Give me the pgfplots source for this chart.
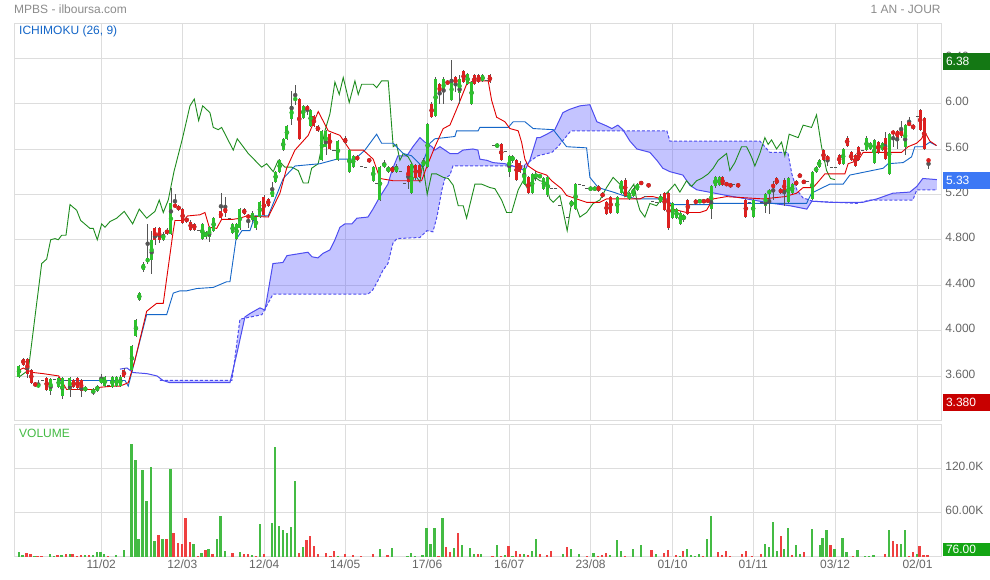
\documentclass[border=0pt]{standalone}
\usepackage{pgfplots}
\pgfplotsset{compat=1.18}
\usepackage{pgfplotstable}
\usepackage{fontspec}
\setmainfont{Liberation Sans}

\definecolor{gridc}{HTML}{DDDDDD}
\definecolor{tickc}{HTML}{666666}
\definecolor{upc}{HTML}{2DC22D}
\definecolor{downc}{HTML}{DD2020}
\definecolor{wickc}{HTML}{555555}
\definecolor{tenkan}{HTML}{E00000}
\definecolor{kijun}{HTML}{1466C8}
\definecolor{chikou}{HTML}{1E8C1E}
\definecolor{span}{HTML}{4D4DF0}
\definecolor{cloud}{HTML}{4D4DFF}
\definecolor{volup}{HTML}{44BB44}
\definecolor{voldown}{HTML}{EE4040}
\newcommand\fs{\fontsize{12}{14}\selectfont}

% candles: x (px position on the date axis), open, close, high, low
\pgfplotstableread{
x o c h l
19 3.59 3.69 3.70 3.58
38.3 3.50 3.53 3.56 3.49
50.7 3.47 3.57 3.58 3.43
58.7 3.50 3.58 3.59 3.49
62.3 3.42 3.58 3.59 3.40
70 3.48 3.58 3.59 3.41
85.3 3.47 3.50 3.51 3.46
93.3 3.45 3.48 3.49 3.43
97.3 3.47 3.51 3.52 3.46
101.3 3.54 3.58 3.62 3.53
105 3.51 3.59 3.60 3.50
112.3 3.50 3.59 3.60 3.49
116.7 3.51 3.59 3.60 3.50
120.3 3.51 3.59 3.61 3.50
132 3.65 3.86 3.87 3.64
136 3.95 4.09 4.10 3.94
139.3 4.27 4.33 4.34 4.26
143.3 4.53 4.59 4.60 4.52
147.7 4.60 4.64 4.94 4.59
151.7 4.62 4.80 4.88 4.50
163.3 4.80 4.85 4.87 4.79
171 4.85 5.12 5.26 4.84
202.3 4.81 4.94 4.95 4.80
206 4.82 4.87 4.88 4.81
209.3 4.82 4.91 4.92 4.78
213.7 4.88 4.99 5.00 4.87
232.7 4.86 4.94 4.95 4.85
236.7 4.81 4.94 4.95 4.80
240 4.90 5.07 5.08 4.89
252.3 4.97 5.04 5.05 4.96
256 4.90 5.00 5.01 4.89
260 5.00 5.13 5.14 4.99
272.3 5.18 5.24 5.31 5.18
275.7 5.31 5.40 5.41 5.30
279.7 5.40 5.50 5.51 5.39
283.3 5.59 5.69 5.70 5.58
287 5.69 5.80 5.81 5.68
291.7 5.86 5.98 6.11 5.81
295.3 6.03 6.05 6.16 5.99
303.3 5.87 5.98 5.99 5.86
310.7 5.80 5.94 5.95 5.79
322 5.50 5.76 5.77 5.49
326 5.62 5.76 5.77 5.55
338 5.50 5.67 5.68 5.49
349.3 5.40 5.59 5.60 5.39
353.3 5.44 5.54 5.55 5.43
373.3 5.32 5.44 5.45 5.31
380 5.15 5.44 5.45 5.14
384.3 5.44 5.48 5.50 5.43
388.3 5.40 5.44 5.45 5.39
396.3 5.40 5.45 5.47 5.39
411.7 5.21 5.47 5.48 5.20
423.7 5.45 5.50 5.52 5.44
427.7 5.44 5.82 5.83 5.43
435.7 5.89 6.22 6.23 5.88
443.7 6.10 6.22 6.23 6.00
451.7 6.03 6.22 6.38 6.02
459.7 6.09 6.22 6.25 6.00
467.7 6.17 6.26 6.27 6.16
471.7 6.00 6.19 6.20 5.99
482.7 6.20 6.25 6.26 6.19
497.3 5.62 5.64 5.65 5.61
509.3 5.40 5.54 5.55 5.35
512.7 5.49 5.54 5.55 5.48
524.3 5.29 5.43 5.46 5.28
532.3 5.21 5.38 5.39 5.20
536 5.35 5.38 5.41 5.32
540 5.35 5.37 5.38 5.34
544 5.25 5.34 5.35 5.24
548 5.19 5.35 5.36 5.18
571.7 5.10 5.14 5.15 5.09
575.7 5.07 5.29 5.30 5.06
590.7 5.24 5.26 5.27 5.23
595 5.24 5.26 5.27 5.23
617.3 5.04 5.18 5.19 5.03
621.3 5.21 5.32 5.33 5.20
629.3 5.16 5.21 5.22 5.15
633.3 5.19 5.25 5.26 5.18
637.3 5.24 5.29 5.30 5.23
660.7 5.13 5.19 5.20 5.12
672.7 4.99 5.12 5.13 4.98
676.7 4.99 5.07 5.08 4.98
680.7 4.94 5.04 5.05 4.93
684 4.97 5.02 5.03 4.96
700 5.13 5.15 5.16 5.12
711.3 5.07 5.27 5.28 4.98
715.3 5.27 5.35 5.36 5.26
719.3 5.28 5.35 5.36 5.27
753.3 5.00 5.15 5.16 4.99
765.7 5.10 5.20 5.21 5.04
769.3 5.20 5.24 5.25 5.03
788.3 5.13 5.34 5.35 5.12
792.3 5.21 5.29 5.30 5.20
812.3 5.16 5.40 5.41 5.15
816.3 5.40 5.44 5.45 5.39
819.3 5.44 5.50 5.51 5.43
843.3 5.47 5.60 5.61 5.46
866.7 5.59 5.70 5.71 5.58
870.7 5.60 5.65 5.66 5.59
874.3 5.48 5.68 5.69 5.47
882.3 5.59 5.65 5.66 5.58
889.3 5.38 5.73 5.74 5.37
905.3 5.62 5.81 5.82 5.55
}\upcandles

\pgfplotstableread{
x o c h l
23.3 3.75 3.70 3.76 3.69
27.3 3.75 3.62 3.76 3.58
31.3 3.65 3.54 3.66 3.53
35.3 3.54 3.51 3.55 3.50
46.7 3.58 3.48 3.59 3.47
73.7 3.56 3.50 3.57 3.49
77.7 3.58 3.49 3.59 3.48
81.3 3.56 3.47 3.57 3.41
124 3.65 3.59 3.67 3.58
155 4.90 4.80 4.91 4.75
159.3 4.90 4.80 4.91 4.77
167 4.89 4.85 4.90 4.84
175 5.11 5.09 5.20 5.08
178.7 5.10 5.06 5.11 5.05
182.7 5.07 4.95 5.08 4.94
186.7 4.99 4.96 5.00 4.95
190.7 4.96 4.89 4.97 4.88
194.3 4.94 4.89 4.95 4.88
221 5.05 4.99 5.21 4.98
225.3 5.08 5.04 5.18 5.00
244.3 5.07 5.03 5.08 5.02
248.3 5.02 4.99 5.03 4.90
264 5.18 5.02 5.19 5.01
268.3 5.16 5.10 5.17 5.09
299.3 6.04 5.69 6.05 5.68
307.3 5.98 5.94 5.99 5.90
314 5.89 5.80 5.90 5.79
318 5.80 5.76 5.81 5.75
330 5.73 5.60 5.74 5.59
345.3 5.70 5.65 5.71 5.64
357.3 5.54 5.50 5.55 5.49
369.3 5.51 5.49 5.52 5.48
392.3 5.44 5.40 5.45 5.39
408.3 5.45 5.31 5.46 5.25
415.7 5.46 5.34 5.47 5.33
419.7 5.46 5.35 5.47 5.34
431.7 6.00 5.88 6.01 5.87
439.7 6.17 6.09 6.18 6.00
447.7 6.20 6.17 6.21 6.16
455.7 6.23 6.17 6.24 6.10
463.7 6.29 6.19 6.30 6.18
474.3 6.25 6.17 6.26 6.16
478.7 6.25 6.19 6.26 6.18
490 6.25 6.19 6.26 6.18
501.3 5.64 5.50 5.65 5.49
516.7 5.50 5.33 5.51 5.32
520 5.48 5.40 5.49 5.39
528.3 5.35 5.21 5.36 5.20
598.7 5.27 5.23 5.28 5.22
602.7 5.21 5.18 5.22 5.17
606.7 5.13 5.03 5.14 5.02
610.7 5.18 5.04 5.19 5.03
625.3 5.33 5.19 5.34 5.18
641.3 5.31 5.29 5.32 5.28
648.7 5.29 5.27 5.30 5.26
664.7 5.21 5.06 5.22 5.05
668.7 5.21 4.90 5.22 4.89
688 5.15 5.03 5.16 5.02
696 5.15 5.12 5.16 5.11
704 5.15 5.13 5.16 5.12
708 5.16 5.13 5.17 5.12
722.7 5.35 5.28 5.36 5.27
726.7 5.30 5.28 5.31 5.27
730.7 5.29 5.27 5.30 5.26
738.3 5.29 5.27 5.30 5.26
746 5.15 5.00 5.16 4.99
773.3 5.29 5.26 5.32 5.15
777 5.34 5.29 5.35 5.28
781 5.25 5.21 5.26 5.20
784.3 5.33 5.21 5.34 5.10
796.3 5.32 5.28 5.33 5.27
800 5.38 5.35 5.39 5.34
804 5.32 5.30 5.33 5.29
823.7 5.59 5.50 5.60 5.49
827.7 5.54 5.50 5.55 5.45
839.3 5.55 5.47 5.56 5.46
847.3 5.70 5.63 5.71 5.62
851.3 5.57 5.50 5.58 5.49
855.3 5.55 5.45 5.56 5.44
859 5.62 5.50 5.63 5.49
878.3 5.66 5.57 5.67 5.56
885.3 5.70 5.51 5.75 5.50
893.3 5.76 5.73 5.77 5.62
897.3 5.76 5.70 5.77 5.60
901.3 5.77 5.71 5.85 5.70
909.3 5.83 5.81 5.88 5.80
913.3 5.81 5.78 5.82 5.77
920.3 5.94 5.77 5.95 5.76
924.3 5.87 5.60 5.88 5.59
928.7 5.51 5.49 5.52 5.42
}\downcandles

\begin{document}
\begin{tikzpicture}
\fill[white] (0pt,0pt) rectangle (990pt,-580pt);
\node[anchor=west, font=\fs, text=black!45, inner sep=0pt] at (14pt,-9pt) {MPBS - ilboursa.com};
\node[anchor=east, font=\fs, text=black!45, inner sep=0pt] at (941pt,-9pt) {1 AN - JOUR};

% ---------------- price panel ----------------
\begin{axis}[
    at={(14.3pt,-420.7pt)}, anchor=south west,
    scale only axis, width=927.7pt, height=397.4pt,
    xmin=14.3, xmax=942, ymin=3.2062, ymax=6.7075,
    axis line style={draw=gridc, line width=0.8pt},
    xtick={101.3,182.3,264.3,345.3,427.3,509.3,590.7,672.7,753.3,835.3,917.7},
    xticklabels={},
    ytick={3.6,4.0,4.4,4.8,5.2,5.6,6.0,6.4},
    yticklabels={3.600,4.000,4.400,4.800,5.20,5.60,6.00,6.40},
    yticklabel pos=right,
    yticklabel style={font=\fs, text=tickc, yshift=2pt},
    major tick length=0pt,
    grid=major, grid style={draw=gridc, line width=0.8pt},
    clip=false,
  ]
  % Kumo: span A left to right, then span B back right to left
  \addplot[fill=cloud, fill opacity=0.33, draw=none] coordinates {
    (160,3.58)(163,3.56)(170,3.54)(230,3.54)
    (237,3.80)(245,4.12)(250,4.15)(260,4.20)(265,4.18)(273,4.59)(283,4.60)(287,4.66)
    (308,4.69)(312,4.65)(318,4.64)(323,4.68)(330,4.71)(335,4.80)(340,4.91)(345,4.94)
    (352,4.94)(357,4.99)(368,5.00)(373,5.07)(380,5.18)(388,5.29)(392,5.41)(398,5.54)
    (407,5.54)(413,5.62)(420,5.70)(425,5.66)(432,5.62)(435,5.59)(440,5.62)(445,5.59)
    (450,5.56)(458,5.56)(463,5.59)(473,5.60)(478,5.59)(480,5.51)(487,5.50)(493,5.48)
    (505,5.47)(513,5.45)(525,5.41)(530,5.50)(537,5.70)(540,5.70)(547,5.73)(555,5.77)
    (563,5.92)(570,5.95)(580,5.98)(590,5.99)(597,5.84)(605,5.81)(612,5.78)(618,5.81)
    (623,5.77)(630,5.67)(637,5.60)(650,5.57)(657,5.50)(663,5.43)(670,5.40)(683,5.37)
    (690,5.28)(697,5.24)(727,5.19)(753,5.15)(773,5.12)(790,5.10)(807,5.07)(812,5.14)
    (830,5.13)(863,5.13)(877,5.16)(893,5.21)(910,5.22)(917,5.27)(923,5.34)(937,5.33)
    (937,5.24)(917,5.24)(913,5.15)(870,5.15)(857,5.12)(813,5.14)(803,5.17)(797,5.24)
    (792,5.38)(788,5.57)(770,5.57)(760,5.67)(670,5.67)(667,5.76)(571,5.76)(558,5.62)
    (552,5.57)(538,5.54)(523,5.45)(453,5.45)(450,5.37)(445,5.34)(442,5.24)(437,5.00)
    (433,4.87)(427,4.88)(420,4.82)(397,4.81)(393,4.77)(388,4.59)(383,4.53)(378,4.44)
    (373,4.36)(368,4.32)(273,4.32)(262,4.14)(240,4.10)(232,3.56)(160,3.56)
  } -- cycle;
  % Senkou span A (solid) and B (dashed)
  \addplot[span, line width=1pt] coordinates {
    (120,3.66)(127,3.67)(133,3.63)(147,3.62)(157,3.60)(163,3.56)(170,3.54)(230,3.54)
    (237,3.80)(245,4.12)(250,4.15)(260,4.20)(265,4.18)(273,4.59)(283,4.60)(287,4.66)
    (308,4.69)(312,4.65)(318,4.64)(323,4.68)(330,4.71)(335,4.80)(340,4.91)(345,4.94)
    (352,4.94)(357,4.99)(368,5.00)(373,5.07)(380,5.18)(388,5.29)(392,5.41)(398,5.54)
    (407,5.54)(413,5.62)(420,5.70)(425,5.66)(432,5.62)(435,5.59)(440,5.62)(445,5.59)
    (450,5.56)(458,5.56)(463,5.59)(473,5.60)(478,5.59)(480,5.51)(487,5.50)(493,5.48)
    (505,5.47)(513,5.45)(525,5.41)(530,5.50)(537,5.70)(540,5.70)(547,5.73)(555,5.77)
    (563,5.92)(570,5.95)(580,5.98)(590,5.99)(597,5.84)(605,5.81)(612,5.78)(618,5.81)
    (623,5.77)(630,5.67)(637,5.60)(650,5.57)(657,5.50)(663,5.43)(670,5.40)(683,5.37)
    (690,5.28)(697,5.24)(727,5.19)(753,5.15)(773,5.12)(790,5.10)(807,5.07)(812,5.14)
    (830,5.13)(863,5.13)(877,5.16)(893,5.21)(910,5.22)(917,5.27)(923,5.34)(937,5.33)
  };
  \addplot[span, line width=1pt, dash pattern=on 3pt off 2pt] coordinates {
    (160,3.56)(232,3.56)(240,4.10)(262,4.14)(273,4.32)(368,4.32)(373,4.36)(378,4.44)
    (383,4.53)(388,4.59)(393,4.77)(397,4.81)(420,4.82)(427,4.88)(433,4.87)(437,5.00)
    (442,5.24)(445,5.34)(450,5.37)(453,5.45)(523,5.45)(538,5.54)(552,5.57)(558,5.62)
    (571,5.76)(667,5.76)(670,5.67)(760,5.67)(770,5.57)(788,5.57)(792,5.38)(797,5.24)
    (803,5.17)(813,5.14)(857,5.12)(870,5.15)(913,5.15)(917,5.24)(937,5.24)
  };

  % Chikou span
  \addplot[chikou, line width=0.9pt] coordinates {
    (19,3.59)(28.3,3.65)(33.3,4.00)(36.7,4.24)(41.7,4.59)(46.7,4.63)(50.7,4.80)(55,4.81)
    (58.3,4.80)(61.7,4.84)(66,4.84)(70,5.11)(76.7,5.06)(80.7,4.97)(90,4.90)(93.3,4.90)
    (97.3,4.80)(101.7,4.94)(105,4.91)(110,4.96)(116.7,4.99)(124.3,5.05)(132.7,4.94)
    (139.3,5.07)(146.7,4.99)(155,5.05)(159.3,5.15)(163.3,5.04)(168.3,5.15)(174,5.40)
    (182.7,5.70)(190,5.98)(194.3,6.04)(198.7,5.85)(202.7,5.98)(210,5.92)(213.3,5.79)
    (218.3,5.77)(221.7,5.79)(233.3,5.59)(237.3,5.69)(248.3,5.56)(261.7,5.44)(266.7,5.47)
    (273.3,5.40)(278.3,5.50)(285,5.44)(291.7,5.44)(298.3,5.41)(303.3,5.30)(308.3,5.30)
    (311.7,5.43)(318.3,5.47)(325,5.76)(330,5.91)(335,6.19)(339.3,6.08)(343.3,6.23)
    (349.3,6.01)(355,6.20)(358.3,6.08)(361.7,6.17)(373.3,6.17)(376.7,6.14)(381.7,6.20)
    (388.3,6.20)(393.3,5.62)(396.7,5.64)(400,5.50)(403.3,5.56)(408.3,5.53)(413.3,5.45)
    (416.7,5.35)(420,5.31)(422.7,5.47)(427.3,5.20)(431.7,5.38)(436.7,5.38)(443.3,5.35)
    (448.3,5.34)(453.3,5.28)(458.3,5.10)(463.3,5.10)(466.7,4.99)(475,5.29)(481.7,5.29)
    (490,5.26)(495,5.25)(501.7,5.15)(506.7,5.04)(511.7,5.04)(518.3,5.24)(523.3,5.32)
    (528.3,5.24)(535,5.35)(540,5.32)(545,5.31)(550,5.16)(553.3,5.13)(560,5.19)(567.3,4.88)
    (571.7,5.13)(575,5.12)(580,5.00)(586.7,5.04)(593.3,5.12)(600,5.15)(606.7,5.26)
    (613.3,5.35)(620,5.29)(625,5.18)(630,5.24)(634,5.29)(636.7,5.16)(640,5.06)(645,5.00)
    (650,5.12)(656.7,5.10)(661.7,5.16)(666.7,5.21)(675,5.29)(680,5.22)(686.7,5.32)
    (691.7,5.27)(696.7,5.32)(701.7,5.34)(708.3,5.38)(713.3,5.43)(718.3,5.50)(726.7,5.56)
    (730,5.41)(735,5.48)(741.7,5.62)(746.7,5.62)(751.7,5.53)(755,5.45)(760,5.56)(765,5.70)
    (768.3,5.64)(771.7,5.68)(776.7,5.60)(781.7,5.66)(785,5.54)(789.3,5.73)(798.3,5.70)
    (803.3,5.81)(811.7,5.79)(816.7,5.90)(821.7,5.62)(826.7,5.41)(830.7,5.34)(835,5.33)
  };
  % Kijun-sen
  \addplot[kijun, line width=0.9pt] coordinates {
    (60,3.56)(125,3.56)(128.3,3.51)(146.7,4.14)(166.7,4.14)(173.3,4.33)(180,4.35)
    (186.7,4.35)(196.7,4.37)(213.3,4.38)(226.7,4.43)(230,4.43)(236,4.80)(242,4.88)
    (250,4.88)(255,5.01)(268.3,5.01)(273.3,5.12)(283.3,5.34)(295,5.45)(320,5.47)
    (336.7,5.51)(355,5.51)(365,5.59)(376.7,5.73)(381.7,5.65)(393.3,5.65)(403.3,5.56)
    (411.7,5.54)(421.7,5.45)(430,5.65)(435,5.69)(455,5.71)(456.7,5.76)(478.3,5.76)
    (480,5.79)(508.3,5.79)(513.3,5.84)(525,5.84)(533.3,5.78)(553.3,5.77)(566.7,5.62)
    (586.7,5.61)(590,5.35)(598.3,5.26)(613.3,5.22)(623.3,5.19)(636.7,5.16)(666.7,5.16)
    (671.7,5.11)(710,5.11)(713.3,5.12)(806.7,5.12)(811.7,5.21)(818.3,5.24)(830,5.29)
    (843.3,5.29)(850,5.37)(866.7,5.40)(883.3,5.43)(888.3,5.47)(903.3,5.48)(911.7,5.53)
    (915,5.62)(923.3,5.62)(930,5.66)(936.7,5.63)
  };
  % Tenkan-sen
  \addplot[tenkan, line width=0.9pt] coordinates {
    (19,3.65)(23.3,3.67)(27.3,3.65)(33.3,3.63)(43.3,3.62)(58.7,3.60)(66.7,3.48)(96.7,3.48)
    (100,3.50)(113.3,3.51)(120,3.51)(128.3,3.54)(135,3.74)(146.7,4.17)(156.7,4.24)
    (163.3,4.24)(173.3,4.88)(175,4.97)(183.3,4.97)(187.7,5.01)(200,5.02)(205,5.04)
    (209.3,4.91)(216.7,4.90)(221.7,4.98)(233.3,4.98)(240,4.99)(246.7,5.01)(268.3,5.00)
    (273.3,5.09)(280,5.21)(286.7,5.43)(295,5.59)(308.3,5.72)(318.3,5.93)(328.3,5.76)
    (340,5.72)(350,5.59)(363.3,5.59)(373.3,5.51)(380,5.34)(393.3,5.32)(421.7,5.32)
    (426.7,5.44)(435,5.62)(443.3,5.78)(450,5.81)(456.7,5.95)(466.7,6.17)(473.3,6.20)
    (488.3,6.20)(491.7,6.03)(496.7,5.88)(505,5.84)(510,5.78)(518.3,5.76)(521.7,5.66)
    (525,5.51)(528.3,5.45)(536.7,5.40)(546.7,5.37)(551.7,5.32)(561.7,5.25)(566.7,5.19)
    (576.7,5.16)(586.7,5.13)(600,5.13)(606.7,5.16)(640,5.16)(645,5.18)(653.3,5.18)
    (666.7,5.15)(673.3,5.07)(686.7,5.04)(700,5.04)(706.7,5.06)(713.3,5.16)(726.7,5.18)
    (763.3,5.16)(785,5.18)(796.7,5.21)(803.3,5.26)(813.3,5.26)(818.3,5.31)(825,5.38)
    (845,5.38)(848.3,5.47)(858.3,5.50)(863.3,5.57)(901.7,5.57)(908.3,5.62)(916.7,5.65)
    (921.7,5.69)(925,5.75)(930,5.67)(936.7,5.63)
  };

  % candle wicks
  \addplot[only marks, mark=none, wickc, error bars/.cd, y dir=both, y explicit,
    error mark=none, error bar style={draw=wickc, line width=0.8pt}]
    table[x=x, y expr={(\thisrow{h}+\thisrow{l})/2}, y error expr={(\thisrow{h}-\thisrow{l})/2}] {\upcandles};
  \addplot[only marks, mark=none, wickc, error bars/.cd, y dir=both, y explicit,
    error mark=none, error bar style={draw=wickc, line width=0.8pt}]
    table[x=x, y expr={(\thisrow{h}+\thisrow{l})/2}, y error expr={(\thisrow{h}-\thisrow{l})/2}] {\downcandles};
  % candle bodies
  \addplot[only marks, mark=none, upc, error bars/.cd, y dir=both, y explicit,
    error mark=none, error bar style={draw=upc, line width=3pt}]
    table[x=x, y expr={(\thisrow{o}+\thisrow{c})/2}, y error expr={abs(\thisrow{c}-\thisrow{o})/2}] {\upcandles};
  \addplot[only marks, mark=none, downc, error bars/.cd, y dir=both, y explicit,
    error mark=none, error bar style={draw=downc, line width=3pt}]
    table[x=x, y expr={(\thisrow{o}+\thisrow{c})/2}, y error expr={abs(\thisrow{c}-\thisrow{o})/2}] {\downcandles};
  % flat sessions (open = close)
  \addplot[only marks, mark=-, mark size=1.6pt, wickc, line width=0.8pt] coordinates {
    (42.3,3.56)(54.7,3.57)(66.3,3.56)(108.3,3.52)(198.3,4.88)(229.3,4.99)(334,5.59)
    (361.3,5.45)(365.3,5.44)(376.7,5.30)(400.3,5.40)(404.3,5.30)(486.7,6.20)(493.3,5.63)
    (505.3,5.58)(552,5.25)(556,5.25)(560,5.10)(567.3,5.00)(579.3,5.29)(583.3,5.28)
    (586.7,5.25)(645.3,5.18)(652.7,5.14)(656.7,5.13)(692,5.11)(734,5.29)(750,5.13)
    (761.3,5.13)(808,5.31)(831.7,5.44)(835.7,5.44)(863,5.59)(917.3,5.89)
  };

  \node[anchor=west, font=\fs, text=kijun, inner sep=0pt] at (axis cs:19,6.64) {ICHIMOKU (26, 9)};
  \node[anchor=west, fill={rgb,255:red,20;green,120;blue,20}, text=white, font=\fs,
    minimum height=17pt, text width=41pt, inner xsep=3pt, inner ysep=0pt] at (axis cs:943,6.373) {6.38};
  \node[anchor=west, fill={rgb,255:red,60;green,120;blue,245}, text=white, font=\fs,
    minimum height=17pt, text width=41pt, inner xsep=3pt, inner ysep=0pt] at (axis cs:943,5.324) {5.33};
  \node[anchor=west, fill={rgb,255:red,200;green,0;blue,0}, text=white, font=\fs,
    minimum height=17pt, text width=41pt, inner xsep=3pt, inner ysep=0pt] at (axis cs:943,3.368) {3.380};
\end{axis}

% ---------------- volume panel ----------------
\begin{axis}[
    at={(14.3pt,-556.7pt)}, anchor=south west,
    scale only axis, width=927.7pt, height=132.4pt,
    xmin=14.3, xmax=942, ymin=0, ymax=180,
    axis line style={draw=gridc, line width=0.8pt},
    xtick={101.3,182.3,264.3,345.3,427.3,509.3,590.7,672.7,753.3,835.3,917.7},
    xticklabels={11/02,12/03,12/04,14/05,17/06,16/07,23/08,01/10,01/11,03/12,02/01},
    xticklabel style={font=\fs, text=tickc},
    ytick={60,120},
    yticklabels={60.00K,120.0K},
    yticklabel pos=right,
    yticklabel style={font=\fs, text=tickc, yshift=2pt},
    major tick length=0pt,
    grid=major, grid style={draw=gridc, line width=0.8pt},
    clip=false,
  ]
  % volumes in thousands of shares
  \addplot[ycomb, volup, line width=2.4pt] coordinates {
    (19,6.3)(22.7,1.5)(34.7,0.5)(50,3)(54,0.5)(61.7,2)(70,4)(85.3,2.5)(93,2)(97,6.5)
    (100.7,6)(104,4)(116,2.5)(124,9.6)(131.7,153)(135.7,131)(138.7,23.6)(142.7,117.7)
    (146.7,75.4)(151,122)(154.7,20.9)(162.7,23.6)(170.7,118.6)(193.7,17.7)(201.7,4.9)
    (208.7,10)(217,24)(220.7,55)(225,7.7)(240,6.4)(252,1.8)(260,44.5)(272,45.9)
    (275,148.6)(279,41)(283,35.9)(287,32)(291.3,40)(295,102.7)(303,12.7)(338,0.8)
    (380,11)(392,11.4)(407.7,1.4)(411,5)(415,1)(422.7,1.8)(426.7,39)(430.7,16.8)
    (434.7,38.6)(442.7,51.8)(454,11.4)(462,16.4)(470,12.3)(474,4)(481,3.2)(497,15.5)
    (505,2.7)(512.7,1)(524,3.2)(532,7.7)(536,23.6)(563,3.6)(571,10.9)(579,3)(593.7,5.5)
    (610,2.7)(617,22.3)(621,8.2)(633,10.9)(641,16.4)(656,4)(680,1)(687,10.9)(691,2)
    (695,1)(699,3.6)(707,23.6)(711,55)(765,16.8)(769,13)(773,46.4)(777,8.2)(784,10)
    (788,38.2)(796,15.9)(800,4)(812,37.3)(820,16.4)(822.7,25)(826.7,36.8)(834.7,10)
    (842.7,25)(846.7,6.8)(857.7,8.6)(865,0.5)(869,0.5)(873.7,2.3)(889,35.5)(901,16.8)
    (905,36.8)(917,3.6)
  };
  \addplot[ycomb, voldown, line width=2.4pt] coordinates {
    (26.7,5)(30.7,3.5)(37.7,0.5)(41.7,0.5)(57.7,1.5)(66,3)(72.7,4)(77,0.5)(81,2)(89.3,1.5)
    (108,0.5)(158.7,29)(166.7,23.6)(173.7,32)(178,19)(182,17)(185.7,53)(190,20)(198,0.5)
    (205.7,8.6)(212.7,3.6)(232.7,4.9)(244,3.2)(248,3.6)(256,1)(264,4)(299,4.9)(306.7,22.7)
    (310,28.6)(314,14)(318,4)(326,5.5)(330.7,0.5)(334,8.2)(345.3,4)(353,2.7)(361,1.4)
    (373,3)(387.7,2)(438.7,0.5)(446,12.7)(450,6.8)(458,31.4)(478,4)(492.7,0.5)(501,1)
    (508.7,14)(516,7.3)(520,4)(528,2.3)(540,4)(547,2.7)(551,7.3)(567,13.6)(587,0.5)
    (598,0.5)(602,2.3)(606,5)(625,0.5)(651.7,8.6)(664,5)(668,8.6)(676,2)(683,7.7)
    (703,0.5)(718,6.8)(722,2.7)(726,7.7)(730,0.5)(742,3.2)(746,8.2)(752,0.5)(761,3.2)
    (781,28.2)(792,2.3)(804,5.9)(830.7,15.5)(853,0.5)(885,3.6)(893,20.9)(897,16.8)
    (909,0.5)(913,5.9)(919.7,14.5)(923.7,2.3)(927.7,2.3)
  };
  \node[anchor=west, font=\fs, text=volup, inner sep=0pt] at (axis cs:19,167) {VOLUME};
  \node[anchor=south west, fill={rgb,255:red,20;green,165;blue,20}, text=white, font=\fs,
    minimum height=13.3pt, text width=41pt, inner xsep=3pt, inner ysep=0pt] at (axis cs:943,0) {76.00};
\end{axis}
\end{tikzpicture}
\end{document}
